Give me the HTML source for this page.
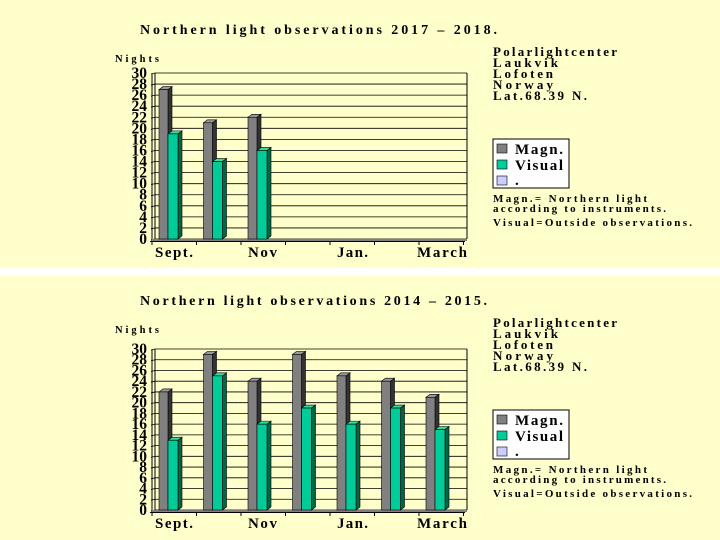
<!DOCTYPE html>
<html><head><meta charset="utf-8"><style>
html,body{margin:0;padding:0;background:#FFFFCC;}
body{width:720px;height:540px;overflow:hidden;position:relative;}
svg{position:absolute;left:0;top:0;}
text{font-family:"Liberation Serif",serif;font-weight:bold;fill:#000;}
</style></head><body>
<svg id="s" width="720" height="540" xmlns="http://www.w3.org/2000/svg">
<rect x="0" y="0" width="720" height="540" fill="#FFFFCC"/>
<rect x="0" y="268" width="720" height="8" fill="#FFFFFF"/>
</svg>
<script>
var s=document.getElementById('s'),ns='http://www.w3.org/2000/svg';
function el(t,a,txt){var e=document.createElementNS(ns,t);for(var k in a)e.setAttribute(k,a[k]);if(txt!=null)e.textContent=txt;s.appendChild(e);return e;}
function tx(x,y,fs,str,len,anchor){var a={x:x,y:y,'font-size':fs};if(len){a.textLength=len;a.lengthAdjust='spacing';}if(anchor)a['text-anchor']=anchor;return el('text',a,str);}
function chart(oy,y0,y30,title,tlen,magn,vis){
 var sc=(y0-y30)/30;
 tx(140,oy+34,14,title,tlen);
 tx(115,oy+62,10.5,'Nights',44);
 for(var v=0;v<=30;v+=2){var y=y0-v*sc;
  el('line',{x1:155,x2:467,y1:y,y2:y,stroke:'#000','stroke-width':0.8});
  el('line',{x1:151,x2:155,y1:y+1,y2:y,stroke:'#000','stroke-width':0.8});
  tx(147,y+5,15.5,String(v),null,'end');}
 el('line',{x1:155,x2:155,y1:y30,y2:y0,stroke:'#000','stroke-width':1});
 el('line',{x1:152,x2:152,y1:y30+1,y2:y0+2,stroke:'#000','stroke-width':1});
 el('line',{x1:467,x2:467,y1:y30,y2:y0,stroke:'#000','stroke-width':1});
 el('rect',{x:152,y:y0,width:315,height:2,fill:'#808080'});
 el('line',{x1:150,x2:465,y1:y0+2.5,y2:y0+2.5,stroke:'#000','stroke-width':1});
 for(var i=0;i<=7;i++){var t=152+44.5*i;el('line',{x1:t,x2:t,y1:y0+2,y2:y0+6,stroke:'#000','stroke-width':1});}
 tx(155,y0+18,15,'Sept.',38);tx(248,y0+18,15,'Nov',29);tx(337,y0+18,15,'Jan.',31);tx(417,y0+18,15,'March',50);
 function bar(x,w,v,f,sd,tp){if(!v)return;var yt=y0-v*sc,d=4;
  el('polygon',{points:(x+w)+','+yt+' '+(x+w+d)+','+(yt-3)+' '+(x+w+d)+','+(y0-3)+' '+(x+w)+','+y0,fill:sd,stroke:'#000','stroke-width':0.6});
  el('polygon',{points:x+','+yt+' '+(x+d)+','+(yt-3)+' '+(x+w+d)+','+(yt-3)+' '+(x+w)+','+yt,fill:tp,stroke:'#000','stroke-width':0.6});
  el('rect',{x:x,y:yt,width:w,height:y0-yt,fill:f,stroke:'#000','stroke-width':0.6});}
 for(var i=0;i<7;i++){var cl=152+44.5*i;
  bar(cl+7,9,magn[i],'#808080','#333','#999');
  bar(cl+16,10,vis[i],'#00CC99','#006644','#33dd99');}
 var lines=[['Polarlightcenter',124],['Laukvik',65],['Lofoten',60],['Norway',60],['Lat.68.39 N.',94]];
 for(var k=0;k<5;k++)tx(493,oy+56+k*11,13,lines[k][0],lines[k][1]);
 var ly=oy+139;
 el('rect',{x:493,y:ly,width:76,height:49,fill:'#fff',stroke:'#000','stroke-width':1});
 el('rect',{x:497,y:ly+5,width:10,height:9,fill:'#808080',stroke:'#000','stroke-width':0.6});
 tx(515,ly+15,15,'Magn.',48);
 el('rect',{x:497,y:ly+21,width:10,height:9,fill:'#00CC99',stroke:'#000','stroke-width':0.6});
 tx(515,ly+31,15,'Visual',48);
 el('rect',{x:497,y:ly+37,width:10,height:9,fill:'#CCCCFF',stroke:'#000','stroke-width':0.6});
 tx(515,ly+46,15,'.');
 tx(493,oy+202,11,'Magn.= Northern light',154);
 tx(493,oy+212,11,'according to instruments.',173);
 tx(493,oy+226,11,'Visual=Outside observations.',199);
}
chart(0,239,73,'Northern light observations 2017 \u2013 2018.',357,[27,21,22,0,0,0,0],[19,14,16,0,0,0,0]);
chart(271,510,349,'Northern light observations 2014  \u2013 2015.',347,[22,29,24,29,25,24,21],[13,25,16,19,16,19,15]);
</script>
</body></html>
